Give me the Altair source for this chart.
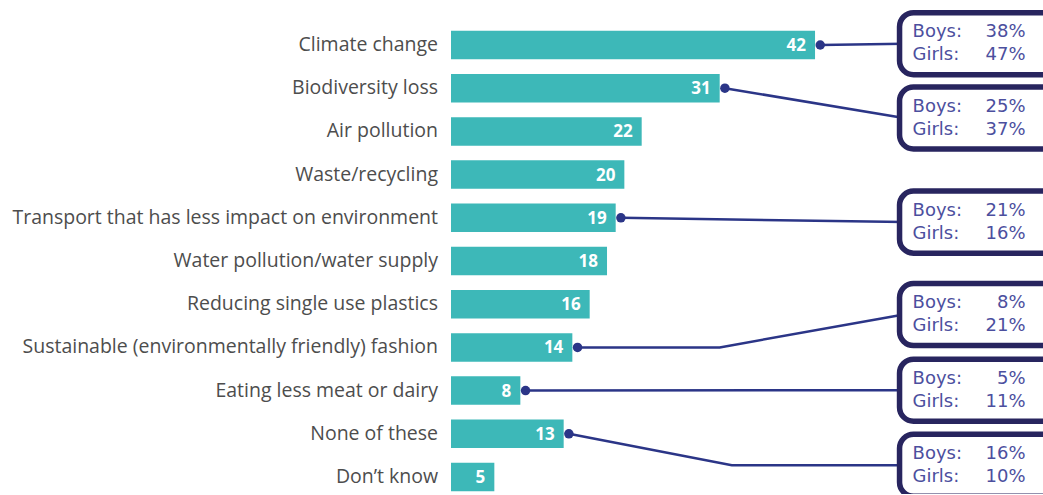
import altair as alt
import pandas as pd

categories = [
    "Climate change", "Biodiversity loss", "Air pollution", "Waste/recycling",
    "Transport that has less impact on environment", "Water pollution/water supply",
    "Reducing single use plastics", "Sustainable (environmentally friendly) fashion",
    "Eating less meat or dairy", "None of these", "Don’t know",
]
values = [42, 31, 22, 20, 19, 18, 16, 14, 8, 13, 5]

callout_categories = [
    "Climate change", "Biodiversity loss",
    "Transport that has less impact on environment",
    "Sustainable (environmentally friendly) fashion",
    "Eating less meat or dairy", "None of these",
]
boys = [38, 25, 21, 8, 5, 16]
girls = [47, 37, 16, 21, 11, 10]

# annotation layout (row units / value units)
box_rows = [-0.03, 1.69, 4.10, 6.24, 7.99, 9.73]
elbows = [None, None, None, ("after", 31.0), None, ("before", 32.4)]
BOX_X0, BOX_X1 = 51.75, 70.0
BOX_HALF = 0.718
DOT_GAP = 0.6

TEAL = "#3db8b8"
NAVY_LINE = "#2b3587"
BOX_STROKE = "#28255f"
BOX_TEXT = "#4c4f9e"
LABEL = "#4d4d4d"
FONT = "Open Sans"
BOX_FONT = "DejaVu Sans"

bars = pd.DataFrame({
    "cat": categories,
    "value": values,
    "row": list(range(len(categories))),
})
bars["zero"] = 0
bars["y0"] = bars["row"] - 0.33
bars["y1"] = bars["row"] + 0.33

row_of = {c: i for i, c in enumerate(categories)}
val_of = dict(zip(categories, values))

dots, line_pts, boxes, texts = [], [], [], []
for i, c in enumerate(callout_categories):
    r, v, br = row_of[c], val_of[c], box_rows[i]
    dots.append({"x": v + DOT_GAP, "row": r})
    pts = [(v + DOT_GAP, r)]
    e = elbows[i]
    if e is not None:
        if e[0] == "after":
            pts.append((e[1], r))
        else:
            pts.append((e[1], br))
    pts.append((BOX_X0 + 0.5, br))
    for k, (px, py) in enumerate(pts):
        line_pts.append({"id": i, "ord": k, "x": px, "row": py})
    boxes.append({"x0": BOX_X0, "x1": BOX_X1, "y0": br - BOX_HALF, "y1": br + BOX_HALF})
    texts.append({"x": BOX_X0, "row": br, "line": 0, "lab": "Boys:", "val": f"{boys[i]}%"})
    texts.append({"x": BOX_X0, "row": br, "line": 1, "lab": "Girls:", "val": f"{girls[i]}%"})

dots = pd.DataFrame(dots)
line_pts = pd.DataFrame(line_pts)
boxes = pd.DataFrame(boxes)
texts = pd.DataFrame(texts)

xs = alt.Scale(domain=[0, 68.3], nice=False, zero=False)
ys = alt.Scale(domain=[-0.5, 10.3], reverse=True, nice=False, zero=False)

bar_layer = alt.Chart(bars).mark_rect(color=TEAL).encode(
    x=alt.X("zero:Q", scale=xs, axis=None),
    x2="value:Q",
    y=alt.Y("y0:Q", scale=ys, axis=None),
    y2="y1:Q",
)
val_layer = alt.Chart(bars).mark_text(
    color="white", font=FONT, fontWeight="bold", fontSize=17, align="right",
    baseline="middle", dx=-9, dy=1,
).encode(
    x=alt.X("value:Q", scale=xs, axis=None),
    y=alt.Y("row:Q", scale=ys, axis=None),
    text="value:Q",
)
cat_layer = alt.Chart(bars).mark_text(
    color=LABEL, font=FONT, fontSize=19.5, align="right",
    baseline="middle", dx=-13,
).encode(
    x=alt.X("zero:Q", scale=xs, axis=None),
    y=alt.Y("row:Q", scale=ys, axis=None),
    text="cat:N",
)
line_layer = alt.Chart(line_pts).mark_line(color=NAVY_LINE, strokeWidth=2.5).encode(
    x=alt.X("x:Q", scale=xs, axis=None),
    y=alt.Y("row:Q", scale=ys, axis=None),
    detail="id:N",
    order="ord:Q",
)
dot_layer = alt.Chart(dots).mark_circle(color=NAVY_LINE, opacity=1, size=90).encode(
    x=alt.X("x:Q", scale=xs, axis=None),
    y=alt.Y("row:Q", scale=ys, axis=None),
)
box_layer = alt.Chart(boxes).mark_rect(
    fill="white", stroke=BOX_STROKE, strokeWidth=5.5, cornerRadius=14,
).encode(
    x=alt.X("x0:Q", scale=xs, axis=None),
    x2="x1:Q",
    y=alt.Y("y0:Q", scale=ys, axis=None),
    y2="y1:Q",
)
boys_t = texts[texts["line"] == 0]
girls_t = texts[texts["line"] == 1]


def box_text(df, dy):
    lab = alt.Chart(df).mark_text(
        color=BOX_TEXT, font=BOX_FONT, fontSize=18, align="left",
        baseline="middle", dx=13, dy=dy,
    ).encode(
        x=alt.X("x:Q", scale=xs, axis=None),
        y=alt.Y("row:Q", scale=ys, axis=None),
        text="lab:N",
    )
    val = alt.Chart(df).mark_text(
        color=BOX_TEXT, font=BOX_FONT, fontSize=18, align="right",
        baseline="middle", dx=126, dy=dy,
    ).encode(
        x=alt.X("x:Q", scale=xs, axis=None),
        y=alt.Y("row:Q", scale=ys, axis=None),
        text="val:N",
    )
    return lab + val


chart = alt.layer(
    bar_layer, val_layer, cat_layer, line_layer, dot_layer, box_layer,
    box_text(boys_t, -11.5), box_text(girls_t, 11.5),
).properties(
    width=592, height=466.56,
    autosize=alt.AutoSizeParams(type="none"),
    padding={"left": 451, "top": 23.4, "right": 0, "bottom": 4},
    background="white",
).configure_view(stroke=None)

chart.save("out.html", embed_options={"renderer": "svg", "actions": False})
